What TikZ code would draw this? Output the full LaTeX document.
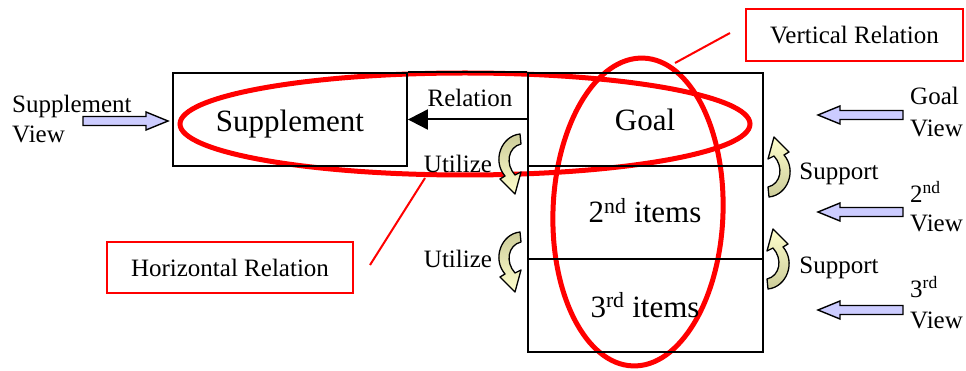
\documentclass[tikz,border=0pt]{standalone}
\usepackage{fontspec}
\setmainfont{Liberation Serif}
\usetikzlibrary{arrows.meta,shapes.geometric}
\definecolor{khaki}{HTML}{CCCC99}
\definecolor{lightyel}{HTML}{FFFFCC}
\definecolor{lav}{HTML}{CCCCFF}
\tikzset{
  box/.style={draw=black, line width=1.8pt},
  cell/.style={box, minimum width=235pt, minimum height=93pt, inner sep=0pt},
  bigtxt/.style={font=\fontsize{31}{34}\selectfont, inner sep=0pt, anchor=base},
  smalltxt/.style={font=\fontsize{25}{30}\selectfont, inner sep=0pt, anchor=base},
  sidetxt/.style={font=\fontsize{25}{30}\selectfont, inner sep=0pt, anchor=base west},
  redbox/.style={draw=red, line width=2pt, inner sep=0pt, font=\fontsize{25}{30}\selectfont},
  redline/.style={draw=red, line width=2pt},
  relell/.style={draw=red, line width=5pt, ellipse, inner sep=0pt},
  blockarrow/.style={draw=black, line width=1.4pt, fill=lav, line join=miter},
  curvarrow/.style={draw=black, line width=1.3pt, line join=round},
  pics/leftblock/.style={code={
    \draw[blockarrow] (0,-4.5) -- (-63,-4.5) -- (-63,-9) -- (-85,0) -- (-63,9) -- (-63,4.5) -- (0,4.5) -- cycle;
  }},
  pics/curvarr/.style 2 args={code={
    \shadedraw[curvarrow, top color=#1, bottom color=#2]
      (9,-29) .. controls (-10,-27) and (-19,-2) .. (-6,13) -- (-11,16) -- (4,31) -- (10,9) -- (4,12)
      .. controls (-6,1) and (-3,-16) .. (10,-19) -- cycle;
  }}
}
\begin{document}
\begin{tikzpicture}[x=1pt,y=-1pt]
\useasboundingbox (0,0) rectangle (966,371);
% red relation ellipses
\node[relell, minimum width=570pt, minimum height=102pt] (horiz) at (465,124) {};
\node[relell, minimum width=170pt, minimum height=308pt, rotate=-2] (vert) at (638,212) {};
% boxes
\node[box, minimum width=234pt, minimum height=93pt, inner sep=0pt] (sup) at (290,119.5) {};
\node[cell] (goal) at (645.5,119.5) {};
\node[cell] (second) at (645.5,212.5) {};
\node[cell] (third) at (645.5,305.5) {};
\draw[box] (sup.north east) -- (goal.north west);
% texts in boxes
\node[bigtxt] (suptxt) at (290,132) {Supplement};
\node[bigtxt] (goaltxt) at (645,131) {Goal};
\node[bigtxt] (secondtxt) at (645,223) {2\textsuperscript{nd} items};
\node[bigtxt] (thirdtxt) at (645,317) {3\textsuperscript{rd} items};
% relation arrow
\draw[box, line width=2pt, -{Triangle[length=20pt,width=20pt]}] (goal.west) -- (sup.east);
\node[smalltxt] (reltxt) at (470,107) {Relation};
% utilize / support
\node[smalltxt] (util1) at (458,173) {Utilize};
\node[smalltxt] (util2) at (458,268) {Utilize};
\node[smalltxt] (supp1) at (839,180) {Support};
\node[smalltxt] (supp2) at (839,273) {Support};
\pic at (511,163) {curvarr={khaki}{lightyel}};
\pic at (511,261) {curvarr={khaki}{lightyel}};
\pic[rotate=180] at (778,168) {curvarr={lightyel}{khaki}};
\pic[rotate=180] at (777,260) {curvarr={lightyel}{khaki}};
% views
\node[sidetxt] (svA) at (12,113) {Supplement};
\node[sidetxt] (svB) at (12,143) {View};
\pic[xscale=-1] at (83,121) {leftblock};
\node[sidetxt] (gvA) at (910,105) {Goal};
\node[sidetxt] (gvB) at (910,137) {View};
\pic at (903,115) {leftblock};
\node[sidetxt] (nvA) at (910,203) {2\textsuperscript{nd}};
\node[sidetxt] (nvB) at (910,232) {View};
\pic at (903,212) {leftblock};
\node[sidetxt] (rvA) at (910,298) {3\textsuperscript{rd}};
\node[sidetxt] (rvB) at (910,328) {View};
\pic at (903,310) {leftblock};
% callouts
\node[redbox, minimum width=217pt, minimum height=52pt] (vrel) at (854.5,35) {Vertical Relation};
\node[redbox, minimum width=246pt, minimum height=51pt] (hrel) at (230,267.5) {Horizontal Relation};
\coordinate (vA) at (675,63);
\coordinate (vB) at (730,33);
\coordinate (hA) at (370,265);
\coordinate (hB) at (425,178);
\draw[redline] (vA) -- (vB);
\draw[redline] (hA) -- (hB);
\end{tikzpicture}
\end{document}
